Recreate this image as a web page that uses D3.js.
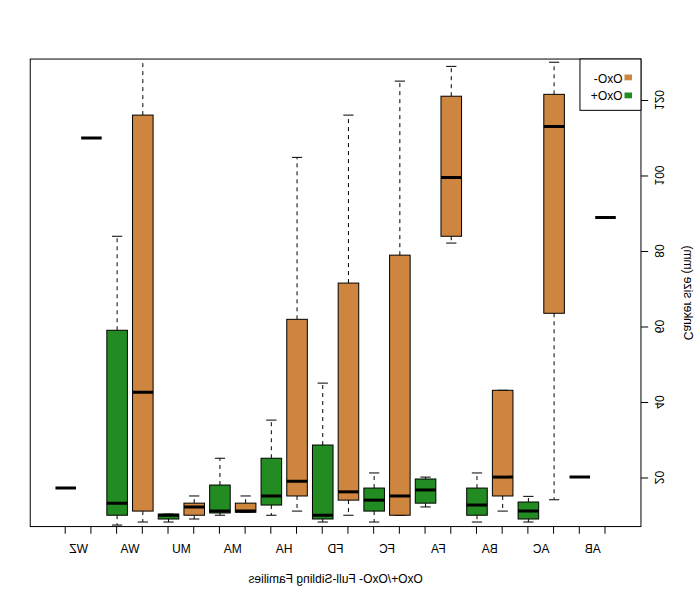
<!DOCTYPE html>
<html>
<head>
<meta charset="utf-8">
<script src="https://cdn.jsdelivr.net/npm/d3@7"></script>
<style>
  body { margin: 0; background: #fff; }
  text { font-family: "Liberation Sans", Arial, sans-serif; font-size: 12px; fill: #000; }
</style>
</head>
<body>
<div id="viz"></div>
<script>
// families, each measured once without (-) and once with (+) OxO
const families = ['AB', 'AC', 'BA', 'FA', 'FC', 'FD', 'HA', 'MA', 'MU', 'WA', 'WZ'];

// OxO- boxes: lower whisker, Q1, median, Q3, upper whisker
const negLow = [88.9, 14.1, 11.1, 82.1, 10.0, 10.0, 11.1, 10.8, 9.0, 8.2, 109.9];
const negQ1 = [88.9, 63.5, 15.1, 83.9, 10.0, 14.0, 15.1, 10.8, 10.0, 11.1, 109.9];
const negMed = [88.9, 113.0, 20.1, 99.5, 15.1, 16.2, 19.0, 11.1, 12.2, 42.6, 109.9];
const negQ3 = [88.9, 121.5, 43.1, 121.0, 78.9, 71.5, 61.9, 13.2, 13.2, 116.0, 109.9];
const negHigh = [88.9, 130.0, 43.1, 128.9, 125.0, 116.0, 104.8, 15.1, 15.1, 140.0, 109.9];

// OxO+ boxes
const posLow = [20.1, 8.2, 8.2, 12.2, 8.2, 8.2, 10.0, 10.0, 8.2, 7.4, 17.2];
const posQ1 = [20.1, 9.0, 10.0, 13.2, 11.1, 9.0, 12.7, 10.6, 9.0, 10.0, 17.2];
const posMed = [20.1, 11.1, 12.7, 16.7, 14.0, 10.0, 15.1, 11.1, 10.0, 13.2, 17.2];
const posQ3 = [20.1, 13.5, 17.2, 19.6, 17.2, 28.6, 25.1, 18.0, 10.3, 59.0, 17.2];
const posHigh = [20.1, 15.0, 21.2, 20.1, 21.2, 45.0, 35.2, 25.1, 10.3, 83.9, 17.2];

const yTicks = [20, 40, 60, 80, 100, 120];
const groups = ['OxO-', 'OxO+'];
const colors = ['#CD853F', '#228B22'];

const W = 700;
const H = 600;
const PLOT = { left: 59.04, right: 669.76, top: 59.04, bottom: 526.56 };

const boxes = families.flatMap((f, i) => [
  { pos: 2 * i + 1, g: 0, s: [negLow[i], negQ1[i], negMed[i], negQ3[i], negHigh[i]] },
  { pos: 2 * i + 2, g: 1, s: [posLow[i], posQ1[i], posMed[i], posQ3[i], posHigh[i]] }
]);

// R style 4% extension of the ranges
const xr = [0.5, boxes.length + 0.5];
const xPad = 0.04 * (xr[1] - xr[0]);
const x = d3.scaleLinear()
  .domain([xr[0] - xPad, xr[1] + xPad])
  .range([PLOT.left, PLOT.right]);
const y = d3.scaleLinear()
  .domain([7.0, 130.85])
  .range([PLOT.bottom, PLOT.top]);

const svg = d3.select('#viz').append('svg')
  .attr('width', W)
  .attr('height', H);

svg.append('defs').append('clipPath')
  .attr('id', 'clip')
  .append('rect')
  .attr('x', PLOT.left)
  .attr('y', PLOT.top)
  .attr('width', PLOT.right - PLOT.left)
  .attr('height', PLOT.bottom - PLOT.top);

// the reference is drawn mirrored left to right
const root = svg.append('g')
  .attr('transform', `translate(${W},0) scale(-1,1)`);

const half = (x(1) - x(0)) * 0.4;
const staple = half / 2;

const marks = root.append('g').attr('clip-path', 'url(#clip)');
const bx = marks.selectAll('g.box')
  .data(boxes)
  .join('g')
  .attr('class', 'box');

// whiskers
bx.append('line')
  .attr('x1', d => x(d.pos)).attr('x2', d => x(d.pos))
  .attr('y1', d => y(d.s[3])).attr('y2', d => y(d.s[4]))
  .attr('stroke', '#000').attr('stroke-dasharray', '4,4');
bx.append('line')
  .attr('x1', d => x(d.pos)).attr('x2', d => x(d.pos))
  .attr('y1', d => y(d.s[1])).attr('y2', d => y(d.s[0]))
  .attr('stroke', '#000').attr('stroke-dasharray', '4,4');
// staples
[0, 4].forEach(k => {
  bx.append('line')
    .attr('x1', d => x(d.pos) - staple).attr('x2', d => x(d.pos) + staple)
    .attr('y1', d => y(d.s[k])).attr('y2', d => y(d.s[k]))
    .attr('stroke', '#000');
});
// box
bx.append('rect')
  .attr('x', d => x(d.pos) - half)
  .attr('width', half * 2)
  .attr('y', d => y(d.s[3]))
  .attr('height', d => y(d.s[1]) - y(d.s[3]))
  .attr('fill', d => colors[d.g])
  .attr('stroke', '#000');
// median
bx.append('line')
  .attr('x1', d => x(d.pos) - half).attr('x2', d => x(d.pos) + half)
  .attr('y1', d => y(d.s[2])).attr('y2', d => y(d.s[2]))
  .attr('stroke', '#000').attr('stroke-width', 3);

// frame
root.append('rect')
  .attr('x', PLOT.left).attr('y', PLOT.top)
  .attr('width', PLOT.right - PLOT.left)
  .attr('height', PLOT.bottom - PLOT.top)
  .attr('fill', 'none').attr('stroke', '#000');

// y axis
const yAxis = root.append('g')
  .attr('transform', `translate(${PLOT.left},0)`)
  .call(d3.axisLeft(y).tickValues(yTicks).tickSize(7.2).tickFormat(''));
yAxis.select('.domain').remove();
yAxis.selectAll('line').attr('stroke', '#000');
root.append('g').selectAll('text')
  .data(yTicks)
  .join('text')
  .attr('transform', d => `translate(45.5,${y(d)}) rotate(-90)`)
  .attr('text-anchor', 'middle')
  .text(d => d);

// x axis
const xAxis = root.append('g')
  .attr('transform', `translate(0,${PLOT.bottom})`)
  .call(d3.axisBottom(x).tickValues(d3.range(1, boxes.length + 1)).tickSize(7.2).tickFormat(''));
xAxis.select('.domain').remove();
xAxis.selectAll('line').attr('stroke', '#000');
root.append('g').selectAll('text')
  .data(families)
  .join('text')
  .attr('x', (d, i) => x(2 * i + 1.5))
  .attr('y', 553)
  .attr('text-anchor', 'middle')
  .text(d => d);

// titles
root.append('text')
  .attr('x', (PLOT.left + PLOT.right) / 2)
  .attr('y', 583)
  .attr('text-anchor', 'middle')
  .text('OxO+/OxO- Full-Sibling Families');
root.append('text')
  .attr('transform', `translate(15.8,${(PLOT.top + PLOT.bottom) / 2}) rotate(-90)`)
  .attr('text-anchor', 'middle')
  .text('Canker size (mm)');

// legend
const legend = root.append('g');
legend.append('rect')
  .attr('x', PLOT.left).attr('y', PLOT.top)
  .attr('width', 61).attr('height', 51.3)
  .attr('fill', '#fff').attr('stroke', '#000');
groups.forEach((gname, i) => {
  legend.append('rect')
    .attr('x', 68).attr('y', 74.5 + i * 18)
    .attr('width', 7.5).attr('height', 5.8)
    .attr('fill', colors[i]);
  legend.append('text')
    .attr('x', 77.5).attr('y', 82.7 + i * 17.6)
    .text(gname);
});
</script>
</body>
</html>
